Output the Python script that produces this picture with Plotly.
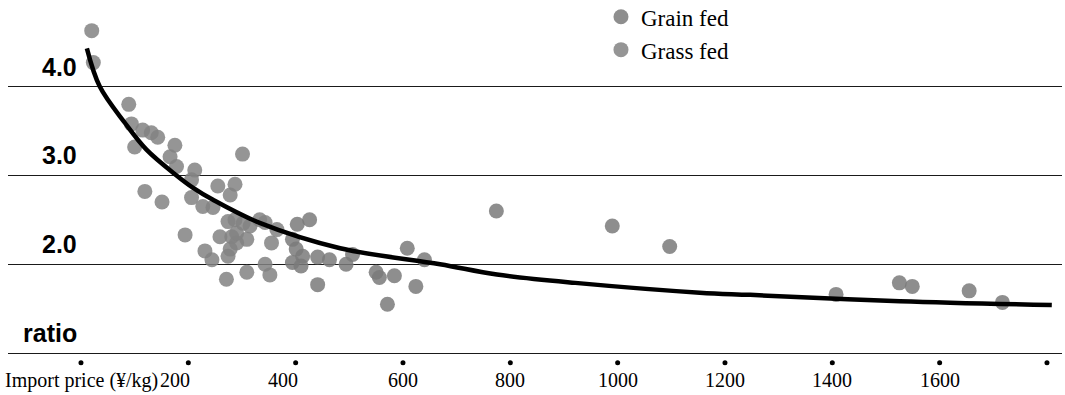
import plotly.graph_objects as go

# ---- data ----
grain_x = [403, 426, 394, 401, 413, 394, 410, 441, 463, 494, 506, 441, 608, 640, 550, 556,
           584, 624, 571, 774, 990, 1097, 1407, 1525, 1549, 1655, 1717]
grain_y = [2.45, 2.50, 2.28, 2.17, 2.09, 2.02, 1.98, 2.08, 2.05, 2.00, 2.11, 1.77, 2.18, 2.05, 1.91, 1.85,
           1.87, 1.75, 1.55, 2.60, 2.43, 2.20, 1.66, 1.79, 1.75, 1.70, 1.57]

grass_x = [20, 23, 89, 94, 115, 131, 143, 100, 175, 166, 178, 212, 206, 301, 119, 151,
           206, 227, 246, 255, 287, 278, 274, 287, 259, 281, 315, 309, 290, 278, 274, 231,
           244, 194, 343, 355, 343, 352, 309, 271, 365, 302, 290, 333]
grass_y = [4.63, 4.27, 3.80, 3.58, 3.51, 3.48, 3.43, 3.32, 3.34, 3.21, 3.10, 3.06, 2.95, 3.24, 2.82, 2.70,
           2.75, 2.65, 2.64, 2.88, 2.90, 2.78, 2.48, 2.50, 2.31, 2.31, 2.43, 2.28, 2.24, 2.17, 2.09, 2.15,
           2.05, 2.33, 2.47, 2.24, 2.00, 1.88, 1.91, 1.83, 2.39, 2.46, 2.35, 2.50]

curve_x = [11, 35, 82, 122, 178, 209, 246, 333, 483, 669, 775, 921, 1153, 1247, 1526, 1809]
curve_y = [4.43, 4.00, 3.59, 3.29, 3.00, 2.86, 2.725, 2.465, 2.18, 2.00, 1.884, 1.79, 1.68, 1.655, 1.584, 1.54]

x_tick_vals = [0, 200, 400, 600, 800, 1000, 1200, 1400, 1600, 1800]
x_tick_text = ["Import price (¥/kg)", "200", "400", "600", "800", "1000", "1200", "1400", "1600", ""]
y_tick_vals = [1, 2, 3, 4]
y_tick_text = ["ratio", "2.0", "3.0", "4.0"]

SERIF = "Liberation Serif, Times New Roman, serif"
SANS = "Liberation Sans, Arial, sans-serif"

fig = go.Figure()

fig.add_trace(go.Scatter(
    x=grain_x, y=grain_y, mode="markers", name="Grain fed",
    marker=dict(size=15, color="#7a7a7a", opacity=0.85, line=dict(width=0)),
))
fig.add_trace(go.Scatter(
    x=grass_x, y=grass_y, mode="markers", name="Grass fed",
    marker=dict(size=15, color="#828282", opacity=0.85, line=dict(width=0)),
))
fig.add_trace(go.Scatter(
    x=curve_x, y=curve_y, mode="lines", showlegend=False, hoverinfo="skip",
    line=dict(color="black", width=4.5, shape="spline", smoothing=1.0),
))
# tick dots under the baseline
fig.add_trace(go.Scatter(
    x=x_tick_vals, y=[0.89] * len(x_tick_vals), mode="markers", showlegend=False,
    hoverinfo="skip", marker=dict(size=5, color="black"),
))

annotations = []
for v, t in zip(x_tick_vals, x_tick_text):
    if not t:
        continue
    if v == 0:
        annotations.append(dict(x=0, xref="paper", y=1, yref="y", text=t, showarrow=False,
                                xanchor="left", yanchor="middle", xshift=-5, yshift=-27,
                                font=dict(family=SERIF, size=20, color="black")))
    else:
        shift = -13 if v in (200, 400) else 0
        annotations.append(dict(x=v, xref="x", y=1, yref="y", text=t, showarrow=False,
                                xanchor="center", yanchor="middle", xshift=shift, yshift=-27,
                                font=dict(family=SERIF, size=20, color="black")))
for v, t in zip(y_tick_vals, y_tick_text):
    annotations.append(dict(x=-3.5, xref="x", y=v, yref="y", text=t, showarrow=False,
                            xanchor="right", yanchor="middle", yshift=20,
                            font=dict(family=SANS, size=25, color="black", weight="bold")))

fig.update_layout(
    width=1065, height=395,
    margin=dict(l=8, r=3, t=0, b=1.5, autoexpand=False),
    paper_bgcolor="white", plot_bgcolor="white",
    showlegend=True,
    legend=dict(x=0.5626, y=1.012, xanchor="left", yanchor="top",
                font=dict(family=SERIF, size=23, color="black"),
                bgcolor="rgba(0,0,0,0)", borderwidth=0),
    xaxis=dict(range=[-136, 1828], showgrid=False, zeroline=False, showline=False,
               showticklabels=False, ticks=""),
    yaxis=dict(range=[0.55, 4.975], tickvals=y_tick_vals, showgrid=True,
               gridcolor="#1a1a1a", gridwidth=1.3, zeroline=False, showline=False,
               showticklabels=False, ticks=""),
    annotations=annotations,
)

fig.write_html("out.html", config={"displayModeBar": False},
               post_script="document.body.style.margin='0';document.body.style.padding='0';")
